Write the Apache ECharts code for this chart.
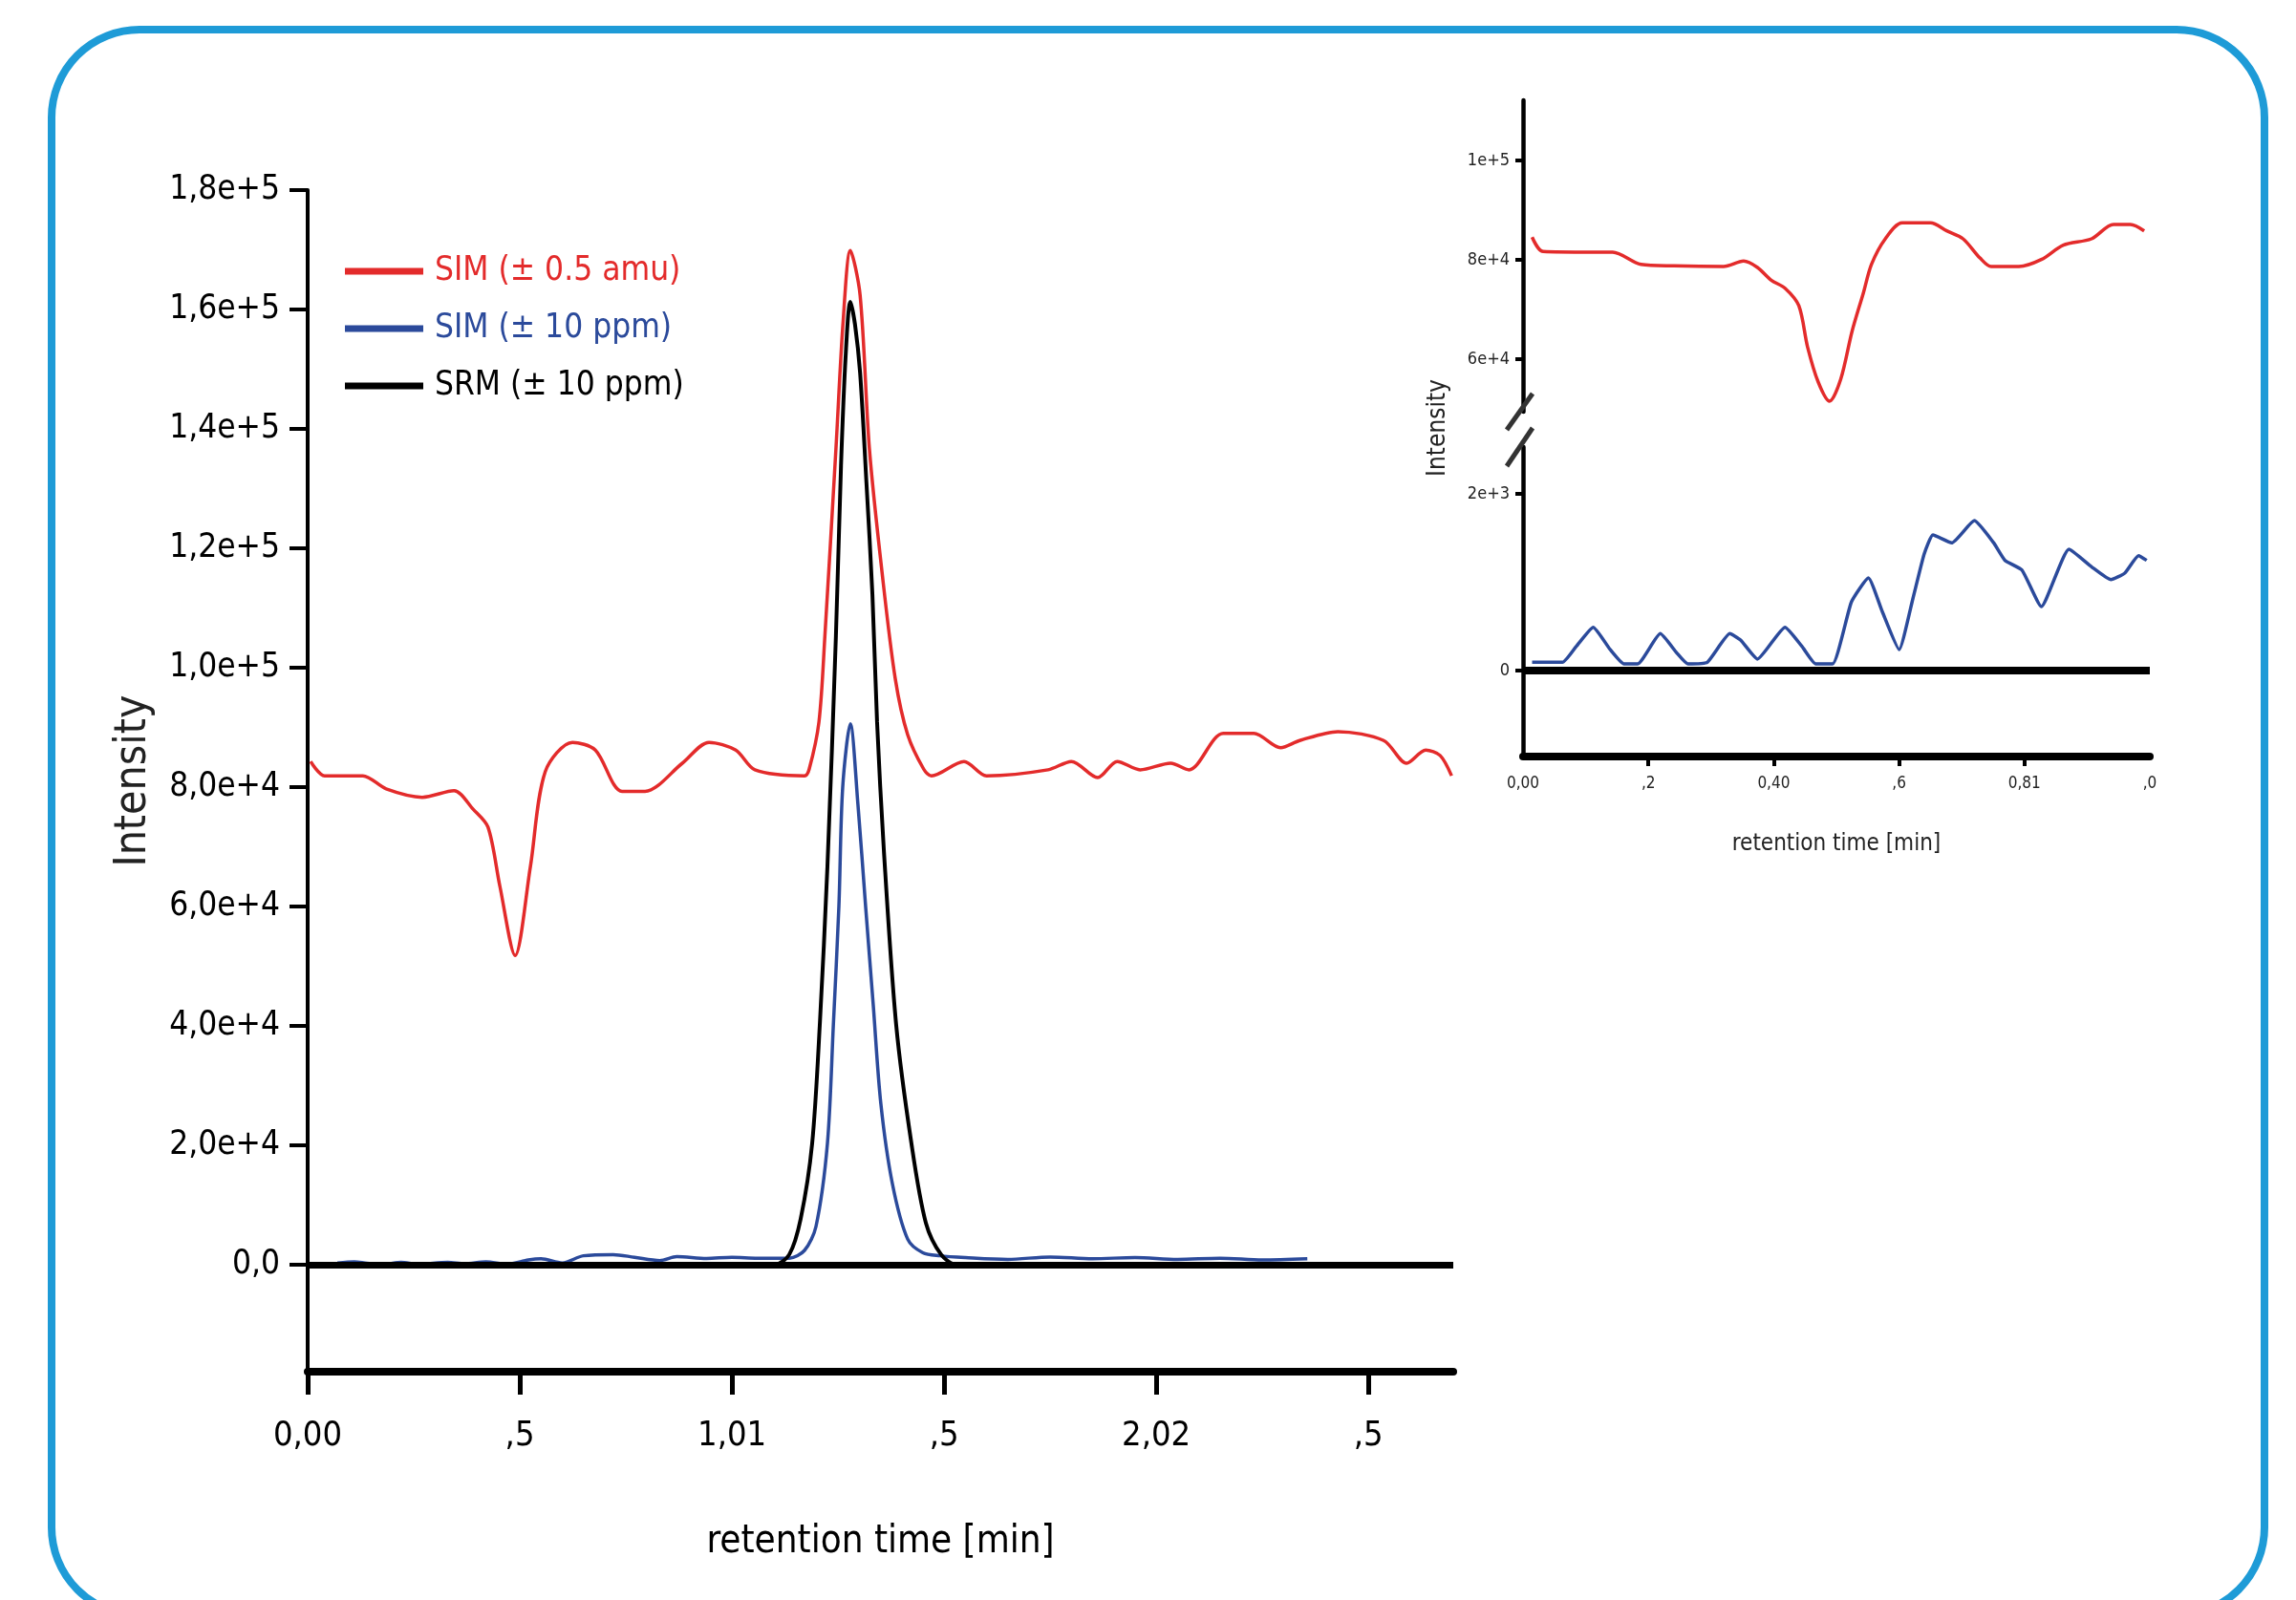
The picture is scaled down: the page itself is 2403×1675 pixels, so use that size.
<!DOCTYPE html>
<html><head><meta charset="utf-8">
<script src="https://cdn.jsdelivr.net/npm/echarts@6/dist/echarts.min.js"></script>
<style>html,body{margin:0;padding:0;background:#fff}#c{width:2403px;height:1675px}</style>
</head><body><div id="c"></div>
<script>
// ---- main chart data (retention time [min], intensity) ----
const redT = [0.007,0.04,0.13,0.185,0.27,0.345,0.39,0.425,0.453,0.489,0.525,0.56,0.624,0.678,0.741,0.795,0.883,0.946,1.009,1.054,1.171,1.182,1.205,1.219,1.245,1.262,1.279,1.302,1.324,1.354,1.385,1.414,1.452,1.47,1.547,1.60,1.745,1.80,1.862,1.908,1.962,2.034,2.077,2.158,2.23,2.293,2.338,2.428,2.536,2.59,2.635,2.669,2.696];
const redV = [84300,81900,81900,79700,78300,79400,76300,73300,63400,51800,66700,82600,87500,86200,79300,79300,84000,87500,86200,82900,81900,83000,90900,105300,136600,158000,169900,162400,136600,115800,98100,88800,83000,81900,84300,81900,82900,84300,81600,84300,82900,84000,82900,89000,89000,86600,87800,89300,87800,84000,86200,85300,81900];

const blueT = [0.07,0.11,0.14,0.18,0.22,0.26,0.33,0.37,0.42,0.47,0.52,0.55,0.6,0.65,0.72,0.77,0.83,0.87,0.94,1.0,1.06,1.135,1.171,1.198,1.225,1.239,1.252,1.261,1.279,1.297,1.315,1.333,1.351,1.378,1.414,1.45,1.49,1.55,1.65,1.75,1.85,1.95,2.05,2.15,2.25,2.356];
const blueV = [300,500,250,100,400,100,400,150,500,100,800,1000,300,1500,1700,1250,700,1350,1050,1250,1100,1100,2400,6400,20300,40200,60000,80000,90600,77000,60000,43500,26900,13600,4300,2000,1500,1200,900,1300,1000,1200,900,1100,800,1000];

const blackT = [0,1.10,1.135,1.162,1.189,1.207,1.225,1.245,1.257,1.268,1.279,1.29,1.302,1.317,1.331,1.342,1.358,1.387,1.423,1.457,1.493,1.53,2.7];
const blackV = [0,0,1700,7700,20300,40200,66700,105300,133800,152300,161300,157500,149400,130900,112300,90900,69400,40200,20300,7000,1700,0,0];

// ---- inset data (0 - 1 min) ----
const insetRedT = [0.0145,0.032,0.108,0.143,0.188,0.241,0.32,0.352,0.374,0.396,0.418,0.44,0.454,0.471,0.489,0.507,0.525,0.543,0.556,0.578,0.605,0.65,0.676,0.702,0.729,0.747,0.791,0.827,0.862,0.907,0.942,0.969,0.991];
const insetRedV = [84560,81670,81540,81540,79100,78790,78650,79750,78460,75900,74290,70770,62440,55380,51540,56020,65630,73330,79100,84230,87440,87440,85830,84230,80380,78650,78650,80060,82950,84230,87120,87120,85830];

const insetBlueT = [0.0145,0.063,0.085,0.112,0.139,0.161,0.183,0.219,0.245,0.263,0.294,0.33,0.347,0.374,0.418,0.445,0.467,0.494,0.524,0.551,0.573,0.60,0.622,0.64,0.654,0.684,0.72,0.751,0.769,0.796,0.827,0.871,0.907,0.938,0.96,0.982,0.995];
const insetBlueV = [94,94,274,490,238,76,76,418,202,76,94,418,346,130,490,274,76,76,778,1049,670,238,814,1319,1535,1445,1697,1445,1247,1138,724,1373,1175,1030,1103,1301,1247];

// ---- ticks and labels ----
const mainXTicks = [0,0.5,1,1.5,2,2.5];
const mainXLabels = ['0,00', ',5', '1,01', ',5', '2,02', ',5'];
const mainYTicks = [0,20000,40000,60000,80000,100000,120000,140000,160000,180000];
const mainYLabels = ['0,0','2,0e+4','4,0e+4','6,0e+4','8,0e+4','1,0e+5','1,2e+5','1,4e+5','1,6e+5','1,8e+5'];
const insetXTicks = [0,0.2,0.4,0.6,0.8,1.0];
const insetXTickMarks = [0.2,0.4,0.6,0.8];
const insetXLabels = ['0,00', ',2', '0,40', ',6', '0,81', ',0'];
const insetUpperYTicks = [60000,80000,100000];
const insetUpperYLabels = ['6e+4','8e+4','1e+5'];
const insetLowerYTicks = [0,2000];
const insetLowerYLabels = ['0','2e+3'];

const seriesNames = ['SIM (± 0.5 amu)', 'SIM (± 10 ppm)', 'SRM (± 10 ppm)'];
const RED = '#e32b2b', BLUE = '#2b4a9b', BLACK = '#000000';
const FONT = "'DejaVu Sans Condensed','Liberation Sans Narrow','Arial Narrow','Liberation Sans',sans-serif";

const zip = (a, b) => a.map((x, i) => [x, b[i]]);
const lab = (ticks, labels) => (v) => {
  const i = ticks.findIndex(t => Math.abs(t - v) <= 1e-6 * Math.max(1, Math.abs(t)));
  return i >= 0 ? labels[i] : '';
};

const chart = echarts.init(document.getElementById('c'), null, {renderer: 'canvas'});
chart.setOption({
  animation: false,
  backgroundColor: '#ffffff',
  grid: [
    {left: 322, top: 199, width: 1199, height: 1237, containLabel: false, outerBoundsMode: 'none'},
    {left: 1594, top: 105, width: 656, height: 326, containLabel: false, outerBoundsMode: 'none'},
    {left: 1594, top: 468, width: 656, height: 324, containLabel: false, outerBoundsMode: 'none'}
  ],
  legend: {
    orient: 'vertical', left: 356, top: 257, icon: 'rect', itemWidth: 82, itemHeight: 7, itemGap: 16,
    textStyle: {fontSize: 35, fontFamily: FONT, lineHeight: 44, padding: [0,0,0,7]},
    data: [
      {name: seriesNames[0], textStyle: {color: RED}},
      {name: seriesNames[1], textStyle: {color: BLUE}},
      {name: seriesNames[2], textStyle: {color: BLACK}}
    ]
  },
  xAxis: [
    {gridIndex: 0, type: 'value', min: 0, max: 2.7,
     axisLine: {show: true, onZero: false, lineStyle: {color: '#000', width: 8}},
     axisTick: {show: true, length: 24, lineStyle: {color: '#000', width: 5}, customValues: mainXTicks},
     axisLabel: {customValues: mainXTicks, formatter: lab(mainXTicks, mainXLabels), fontSize: 36, fontFamily: FONT, color: '#000', margin: 50},
     splitLine: {show: false},
     name: 'retention time [min]', nameLocation: 'middle', nameGap: 159,
     nameTextStyle: {fontSize: 40, fontFamily: FONT, color: '#000'}},
    {gridIndex: 1, type: 'value', min: 0, max: 1, show: false},
    {gridIndex: 2, type: 'value', min: 0, max: 1,
     axisLine: {show: true, onZero: false, lineStyle: {color: '#000', width: 8}},
     axisTick: {show: true, length: 10, lineStyle: {color: '#000', width: 4}, customValues: insetXTickMarks},
     axisLabel: {customValues: insetXTicks, formatter: lab(insetXTicks, insetXLabels), fontSize: 17, fontFamily: FONT, color: '#222', margin: 20},
     splitLine: {show: false},
     name: 'retention time [min]', nameLocation: 'middle', nameGap: 80,
     nameTextStyle: {fontSize: 24, fontFamily: FONT, color: '#222'}}
  ],
  yAxis: [
    {gridIndex: 0, type: 'value', min: -17920, max: 180000,
     axisLine: {show: true, onZero: false, lineStyle: {color: '#000', width: 4}},
     axisTick: {show: true, length: 19, lineStyle: {color: '#000', width: 4}, customValues: mainYTicks},
     axisLabel: {customValues: mainYTicks, formatter: lab(mainYTicks, mainYLabels), fontSize: 35, fontFamily: FONT, color: '#000', margin: 29},
     splitLine: {show: false},
     name: 'Intensity', nameLocation: 'middle', nameGap: 159, nameRotate: 90,
     nameTextStyle: {fontSize: 46, fontFamily: FONT, color: '#222'}},
    {gridIndex: 1, type: 'value', min: 49423, max: 112115,
     axisLine: {show: true, onZero: false, lineStyle: {color: '#000', width: 4.5}},
     axisTick: {show: true, length: 8, lineStyle: {color: '#000', width: 4}, customValues: insetUpperYTicks},
     axisLabel: {customValues: insetUpperYTicks, formatter: lab(insetUpperYTicks, insetUpperYLabels), fontSize: 18, fontFamily: FONT, color: '#222', margin: 14},
     splitLine: {show: false}},
    {gridIndex: 2, type: 'value', min: -973, max: 2530,
     axisLine: {show: true, onZero: false, lineStyle: {color: '#000', width: 4.5}},
     axisTick: {show: true, length: 8, lineStyle: {color: '#000', width: 4}, customValues: insetLowerYTicks},
     axisLabel: {customValues: insetLowerYTicks, formatter: lab(insetLowerYTicks, insetLowerYLabels), fontSize: 18, fontFamily: FONT, color: '#222', margin: 14},
     splitLine: {show: false}}
  ],
  series: [
    {name: seriesNames[0], type: 'line', xAxisIndex: 0, yAxisIndex: 0, data: zip(redT, redV),
     smooth: 0.3, symbol: 'none', color: RED, lineStyle: {color: RED, width: 3.5}, z: 2},
    {name: seriesNames[1], type: 'line', xAxisIndex: 0, yAxisIndex: 0, data: zip(blueT, blueV),
     smooth: 0.3, symbol: 'none', color: BLUE, lineStyle: {color: BLUE, width: 3.5}, z: 3},
    {name: seriesNames[2], type: 'line', xAxisIndex: 0, yAxisIndex: 0, data: zip(blackT, blackV),
     smooth: 0.3, symbol: 'none', color: BLACK, lineStyle: {color: BLACK, width: 4}, z: 4,
     markLine: {silent: true, symbol: ['none','none'], label: {show: false},
       lineStyle: {color: '#000', width: 7, type: 'solid'}, data: [{yAxis: 0}]}},
    {name: 'inset ' + seriesNames[0], type: 'line', xAxisIndex: 1, yAxisIndex: 1, data: zip(insetRedT, insetRedV),
     smooth: 0.3, symbol: 'none', color: RED, lineStyle: {color: RED, width: 3.5}},
    {name: 'inset ' + seriesNames[1], type: 'line', xAxisIndex: 2, yAxisIndex: 2, data: zip(insetBlueT, insetBlueV),
     smooth: 0.15, symbol: 'none', color: BLUE, lineStyle: {color: BLUE, width: 3.5},
     markLine: {silent: true, symbol: ['none','none'], label: {show: false},
       lineStyle: {color: '#000', width: 8, type: 'solid'}, data: [{yAxis: 0}]}}
  ],
  graphic: [
    {type: 'rect', silent: true, z: 100, shape: {x: 54, y: 31, width: 2316, height: 1660, r: 92},
     style: {fill: 'none', stroke: '#1e9bd7', lineWidth: 8}},
    {type: 'line', silent: true, z: 100, shape: {x1: 1577, y1: 450, x2: 1604, y2: 412}, style: {stroke: '#333', lineWidth: 5}},
    {type: 'line', silent: true, z: 100, shape: {x1: 1577, y1: 488, x2: 1604, y2: 448}, style: {stroke: '#333', lineWidth: 5}},
    {type: 'text', silent: true, z: 100, x: 1505, y: 448, rotation: Math.PI / 2,
     style: {text: 'Intensity', fontSize: 26, fontFamily: FONT, fill: '#222', align: 'center', verticalAlign: 'middle'}}
  ]
});
</script>
</body></html>
